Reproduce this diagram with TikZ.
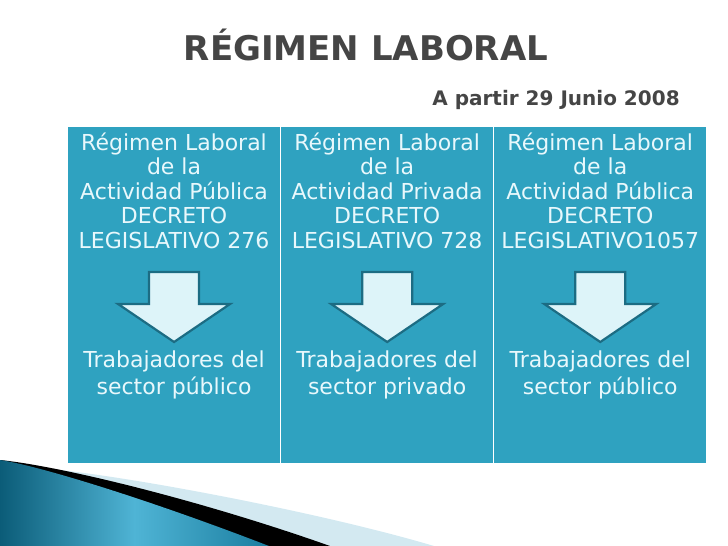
\documentclass[tikz,border=0pt]{standalone}
\usepackage{fontspec}
\setmainfont{DejaVu Sans}
\usetikzlibrary{positioning,calc}

\definecolor{celdaazul}{HTML}{2FA2C0}
\definecolor{textoclaro}{HTML}{E8F8FC}
\definecolor{flechaclara}{HTML}{DDF4F9}
\definecolor{flechaborde}{HTML}{1C6C83}
\definecolor{titulogris}{HTML}{454545}
\definecolor{bandaclara}{HTML}{D3E9F1}
\definecolor{tealoscuro}{HTML}{0B5C78}
\definecolor{tealclaro}{HTML}{4FB4D5}
\definecolor{tealmedio}{HTML}{1B7EA0}

\begin{document}
\begin{tikzpicture}[x=1pt, y=-1pt,
    celda/.style={fill=celdaazul, draw=none, inner sep=0pt, minimum width=211.7pt, minimum height=336pt, anchor=north west},
    texto/.style={text=textoclaro, font=\fontsize{22}{24.5}\selectfont, align=center, anchor=base, inner sep=0pt},
    flecha/.style={fill=flechaclara, draw=flechaborde, line width=2.2pt, line join=miter},
    titulo/.style={text=titulogris, font=\bfseries\fontsize{34}{40}\selectfont, anchor=base, inner sep=0pt}]
    % marco de la pagina (page frame)
    \useasboundingbox (0,0) rectangle (728,546);

    % titulos (Titles)
    \node[titulo] (titulo) at (366,60) {RÉGIMEN LABORAL};
    \node[titulo, font=\bfseries\fontsize{20}{24}\selectfont] (fecha) at (556,105) {A partir 29 Junio 2008};

    % celdas de la tabla (Table cells)
    \node[celda] (c1) at (68,127) {};
    \node[celda, right=1pt of c1] (c2) {};
    \node[celda, right=1pt of c2] (c3) {};

    % textos superiores (Upper texts)
    \node[texto] (t1) at ($(c1.north)+(0,121)$) {Régimen Laboral\\de la\\Actividad Pública\\DECRETO\\LEGISLATIVO 276};
    \node[texto] (t2) at ($(c2.north)+(0,121)$) {Régimen Laboral\\de la\\Actividad Privada\\DECRETO\\LEGISLATIVO 728};
    \node[texto] (t3) at ($(c3.north)+(0,121)$) {Régimen Laboral\\de la\\Actividad Pública\\DECRETO\\LEGISLATIVO1057};

    % flechas hacia abajo (Down arrows)
    \foreach \c in {1,2,3} {
        \coordinate (f\c) at ($(c\c.north)+(0,145)$);
        \draw[flecha] (f\c) ++(-25,0) -- ++(50,0) -- ++(0,32) -- ++(31,0) -- ++(-56,38) -- ++(-56,-38) -- ++(31,0) -- cycle;
    }

    % textos inferiores (Lower texts)
    \node[texto, font=\fontsize{22}{27}\selectfont] (b1) at ($(c1.north)+(0,267)$) {Trabajadores del\\sector público};
    \node[texto, font=\fontsize{22}{27}\selectfont] (b2) at ($(c2.north)+(0,267)$) {Trabajadores del\\sector privado};
    \node[texto, font=\fontsize{22}{27}\selectfont] (b3) at ($(c3.north)+(0,267)$) {Trabajadores del\\sector público};

    % adorno inferior (Bottom swoosh)
    \fill[bandaclara] (60,470) .. controls (150,480) and (330,515) .. (434,546) -- (0,546) -- cycle;
    \fill[black] (0,460) .. controls (60,466) and (200,500) .. (330,546) -- (0,546) -- cycle;
    \shade[left color=tealoscuro, right color=tealmedio, middle color=tealclaro]
        (0,460) .. controls (40,466) and (150,500) .. (269,546) -- (0,546) -- cycle;

\end{tikzpicture}
\end{document}
